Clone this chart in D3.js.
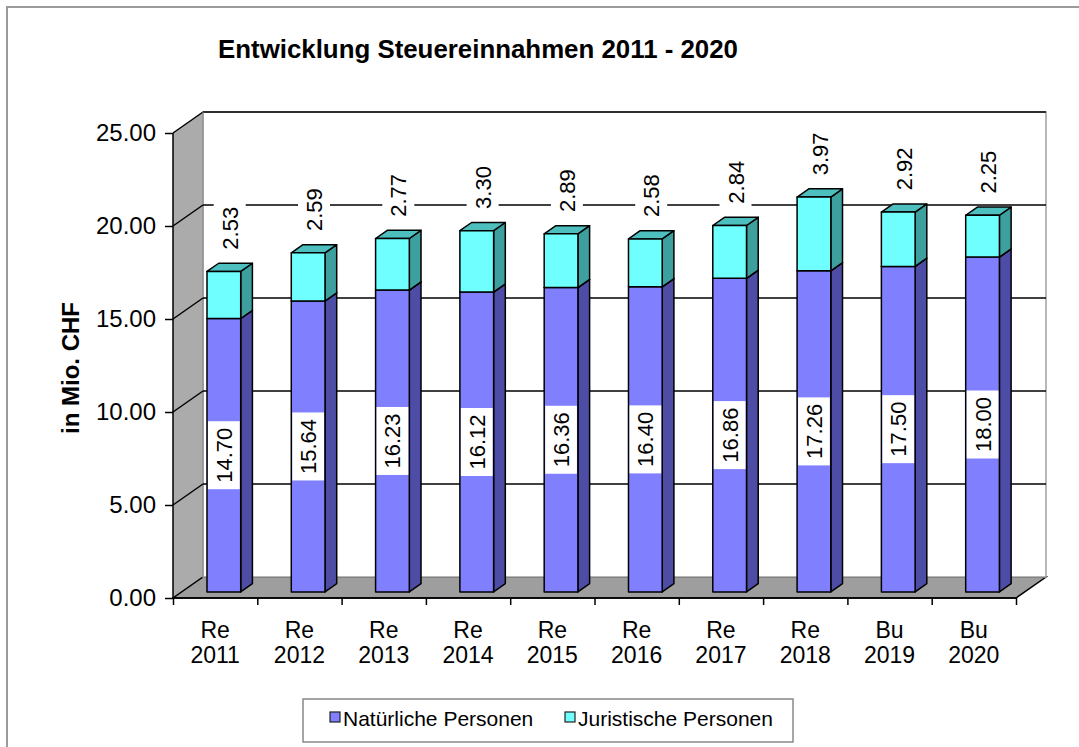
<!DOCTYPE html>
<html>
<head>
<meta charset="utf-8">
<script src="https://cdn.jsdelivr.net/npm/d3@7"></script>
<style>
  body { margin: 0; background: #fff; }
  text { font-family: Arial, "Liberation Sans", sans-serif; }
</style>
</head>
<body>
<svg width="1079" height="747"></svg>
<script>
const prefixes = ['Re', 'Re', 'Re', 'Re', 'Re', 'Re', 'Re', 'Re', 'Bu', 'Bu'];
const years = ['2011', '2012', '2013', '2014', '2015', '2016', '2017', '2018', '2019', '2020'];
const natuerliche = [14.70, 15.64, 16.23, 16.12, 16.36, 16.40, 16.86, 17.26, 17.50, 18.00];
const juristische = [2.53, 2.59, 2.77, 3.30, 2.89, 2.58, 2.84, 3.97, 2.92, 2.25];
const yTicks = [0, 5, 10, 15, 20, 25];
const seriesNames = ['Natürliche Personen', 'Juristische Personen'];

const svg = d3.select('svg');

// frame
svg.append('rect')
	.attr('x', 7).attr('y', 7)
	.attr('width', 1200).attr('height', 900)
	.attr('fill', 'none')
	.attr('stroke', '#9a9a9a')
	.attr('stroke-width', 2);

svg.append('text')
	.attr('x', 218).attr('y', 58)
	.attr('font-size', 25)
	.attr('font-weight', 'bold')
	.attr('textLength', 520)
	.attr('lengthAdjust', 'spacingAndGlyphs')
	.text('Entwicklung Steuereinnahmen 2011 - 2020');

// 3d geometry
const left = 173, right = 1016;
const DX = 30, DY = -21;
const f0 = 0.29, f1 = 0.68;

const xScale = d3.scaleBand()
	.domain(years)
	.range([left, right]);

const xIdx = d3.scaleLinear()
	.domain([0, years.length])
	.range([left, right]);

const yScale = d3.scaleLinear()
	.domain([0, 25])
	.range([598, 133]);

const y0 = yScale(0), yTop = yScale(25);

// left wall
svg.append('path')
	.attr('d', `M${left},${y0} L${left},${yTop} L${left + DX},${yTop + DY} L${left + DX},${y0 + DY} Z`)
	.attr('fill', '#ababab');
// floor
svg.append('path')
	.attr('d', `M${left},${y0} L${right},${y0} L${right + DX},${y0 + DY} L${left + DX},${y0 + DY} Z`)
	.attr('fill', '#9e9e9e')
	.attr('stroke', '#000')
	.attr('stroke-width', 1.5);
// back wall
svg.append('rect')
	.attr('x', left + DX).attr('y', yTop + DY)
	.attr('width', right - left).attr('height', y0 - yTop)
	.attr('fill', '#fff')
	.attr('stroke', '#a0a0a0')
	.attr('stroke-width', 1.5);
svg.append('line')
	.attr('x1', left + DX).attr('x2', right + DX)
	.attr('y1', yTop + DY).attr('y2', yTop + DY)
	.attr('stroke', '#000').attr('stroke-width', 1.5);
svg.append('line')
	.attr('x1', left).attr('x2', left + DX)
	.attr('y1', yTop).attr('y2', yTop + DY)
	.attr('stroke', '#000').attr('stroke-width', 1.5);
svg.append('line')
	.attr('x1', left + DX).attr('x2', left + DX)
	.attr('y1', yTop + DY).attr('y2', y0 + DY)
	.attr('stroke', '#8a8a8a').attr('stroke-width', 1);

// gridlines
const grid = svg.append('g').attr('stroke', '#000').attr('stroke-width', 1.5).attr('fill', 'none');
grid.selectAll('.gb')
	.data(yTicks.filter(d => d > 0 && d < 25))
	.join('line')
		.attr('x1', left + DX).attr('x2', right + DX)
		.attr('y1', d => yScale(d) + DY).attr('y2', d => yScale(d) + DY);
grid.selectAll('.gl')
	.data(yTicks.filter(d => d > 0 && d < 25))
	.join('path')
		.attr('d', d => `M${left},${yScale(d)} L${left + DX},${yScale(d) + DY}`);

// axes
const yAxis = d3.axisLeft(yScale)
	.tickValues(yTicks)
	.tickFormat(d3.format('.2f'))
	.tickSize(8)
	.tickPadding(9);
const yAxisG = svg.append('g')
	.attr('transform', `translate(${left},0)`)
	.call(yAxis);
yAxisG.select('.domain').attr('stroke-width', 1.5).attr('d', `M0,${y0}V${yTop}`);
yAxisG.selectAll('.tick line').attr('stroke-width', 1.5);
yAxisG.selectAll('.tick text')
	.attr('font-size', 24)
	.attr('font-family', 'Arial, "Liberation Sans", sans-serif')
	.attr('fill', '#000');

const xAxis = d3.axisBottom(xIdx)
	.tickValues(d3.range(years.length + 1))
	.tickFormat('')
	.tickSize(7);
const xAxisG = svg.append('g')
	.attr('transform', `translate(0,${y0})`)
	.call(xAxis);
xAxisG.select('.domain').attr('stroke-width', 1.5).attr('d', `M${left},0H${right}`);
xAxisG.selectAll('.tick line').attr('stroke-width', 1.5);

const xLabels = svg.append('g')
	.attr('font-size', 23)
	.attr('text-anchor', 'middle');
xLabels.selectAll('text')
	.data(years)
	.join('text')
		.attr('x', d => xScale(d) + xScale.bandwidth() / 2)
		.attr('y', 638)
		.call(t => t.append('tspan').text((d, i) => prefixes[i]))
		.call(t => t.append('tspan')
			.attr('x', d => xScale(d) + xScale.bandwidth() / 2)
			.attr('dy', 25)
			.text(d => d));

svg.append('text')
	.attr('transform', `translate(79,368) rotate(-90)`)
	.attr('text-anchor', 'middle')
	.attr('font-size', 24)
	.attr('font-weight', 'bold')
	.text('in Mio. CHF');

// bars
const barW = xScale.bandwidth() * 0.4;
const fdx = DX * f0, fdy = DY * f0;
const sdx = DX * (f1 - f0), sdy = DY * (f1 - f0);

const colors = {
	np: {front: '#8080ff', side: '#4d4da6', top: '#6666cc'},
	jp: {front: '#70ffff', side: '#3e9f9f', top: '#4dbfbf'}
};

const bars = years.map((yr, i) => ({
	year: yr,
	np: natuerliche[i],
	jp: juristische[i],
	x: xScale(yr) + xScale.bandwidth() / 2 - barW / 2 + fdx
}));

const drawBox = (g, x, yb, yt, c) => {
	g.append('path')
		.attr('d', `M${x + barW},${yb} L${x + barW + sdx},${yb + sdy} L${x + barW + sdx},${yt + sdy} L${x + barW},${yt} Z`)
		.attr('fill', c.side);
	g.append('path')
		.attr('d', `M${x},${yt} L${x + sdx},${yt + sdy} L${x + barW + sdx},${yt + sdy} L${x + barW},${yt} Z`)
		.attr('fill', c.top);
	g.append('rect')
		.attr('x', x).attr('y', yt)
		.attr('width', barW).attr('height', yb - yt)
		.attr('fill', c.front);
};

const barG = svg.append('g')
	.attr('stroke', '#000')
	.attr('stroke-width', 1.5)
	.attr('stroke-linejoin', 'round');
bars.forEach(b => {
	const g = barG.append('g');
	const yb = yScale(0) + fdy;
	const ym = yScale(b.np) + fdy;
	const yt = yScale(b.np + b.jp) + fdy;
	drawBox(g, b.x, yb, ym, colors.np);
	drawBox(g, b.x, ym, yt, colors.jp);
});

// labels natuerliche
const npLab = svg.append('g');
bars.forEach(b => {
	const ymid = (yScale(0) + yScale(b.np)) / 2 + fdy;
	const cx = b.x + barW / 2;
	npLab.append('rect')
		.attr('x', b.x + 1).attr('y', ymid - 34)
		.attr('width', barW - 2).attr('height', 68)
		.attr('fill', '#fff');
	npLab.append('text')
		.attr('transform', `translate(${cx + 8},${ymid}) rotate(-90)`)
		.attr('text-anchor', 'middle')
		.attr('font-size', 22)
		.text(d3.format('.2f')(b.np));
});

// labels juristische
const jpLab = svg.append('g');
bars.forEach(b => {
	const cy = yScale(b.np + b.jp) + fdy + sdy - 35;
	const cx = b.x + barW / 2 + sdx / 2;
	jpLab.append('rect')
		.attr('x', cx - 16).attr('y', cy - 28)
		.attr('width', 32).attr('height', 56)
		.attr('fill', '#fff');
	jpLab.append('text')
		.attr('transform', `translate(${cx + 8},${cy}) rotate(-90)`)
		.attr('text-anchor', 'middle')
		.attr('font-size', 22)
		.text(d3.format('.2f')(b.jp));
});

// legend
const legend = svg.append('g');
legend.append('rect')
	.attr('x', 303).attr('y', 699)
	.attr('width', 490).attr('height', 43)
	.attr('fill', '#fff')
	.attr('stroke', '#888')
	.attr('stroke-width', 1.5);
const legX = [330, 565];
[colors.np.front, colors.jp.front].forEach((c, i) => {
	legend.append('rect')
		.attr('x', legX[i]).attr('y', 712)
		.attr('width', 10).attr('height', 10)
		.attr('fill', c)
		.attr('stroke', '#222')
		.attr('stroke-width', 1.2);
	legend.append('text')
		.attr('x', legX[i] + 13).attr('y', 726)
		.attr('font-size', 21)
		.text(seriesNames[i]);
});
</script>
</body>
</html>
